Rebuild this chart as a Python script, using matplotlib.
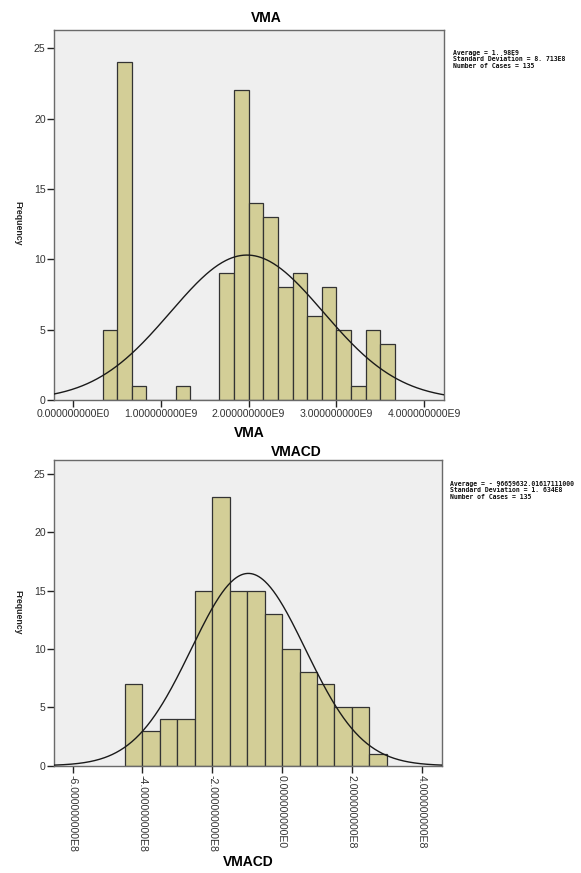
import numpy as np
import matplotlib
matplotlib.use("Agg")
import matplotlib.pyplot as plt

# ---------------- data ----------------
vma_bin_start = 1.0e9 / 3.0          # first bin edge
vma_bin_width = 1.0e9 / 6.0
vma_counts = [5, 24, 1, 0, 0, 1, 0, 0, 9, 22, 14, 13, 8, 9, 6, 8, 5, 1, 5, 4]
vma_mean = 1.98e9
vma_sd = 8.713e8
vma_n = 135
vma_xticks = [0.0, 1.0e9, 2.0e9, 3.0e9, 4.0e9]
vma_xticklabels = ["0.000000000E0", "1.000000000E9", "2.000000000E9",
                   "3.000000000E9", "4.000000000E9"]
vma_stats = ["Average = 1. 98E9", "Standard Deviation = 8. 713E8",
             "Number of Cases = 135"]

vmacd_bin_start = -4.5e8
vmacd_bin_width = 0.5e8
vmacd_counts = [7, 3, 4, 4, 15, 23, 15, 15, 13, 10, 8, 7, 5, 5, 1]
vmacd_mean = -96659632.01617111
vmacd_sd = 1.634e8
vmacd_n = 135
vmacd_xticks = [-6e8, -4e8, -2e8, 0.0, 2e8, 4e8]
vmacd_xticklabels = ["-6.000000000E8", "-4.000000000E8", "-2.000000000E8",
                     "0.000000000E0", "2.000000000E8", "4.000000000E8"]
vmacd_stats = ["Average = - 96659632.01617111000", "Standard Deviation = 1. 634E8",
               "Number of Cases = 135"]

yticks = [0, 5, 10, 15, 20, 25]

# ---------------- style ----------------
plt.rcParams['font.family'] = ['Liberation Sans', 'DejaVu Sans']
BAR = '#d3ce97'
BG = '#efefef'
FRAME = '#6a6a6a'

W, H = 581, 873
fig = plt.figure(figsize=(W / 100, H / 100), dpi=100)


def px_axes(x0, y0, x1, y1):
    return fig.add_axes([x0 / W, 1 - y1 / H, (x1 - x0) / W, (y1 - y0) / H])


def draw(ax, start, width, counts, mean, sd, n, xlim, ylim, xticks, xticklabels, rot):
    counts = np.asarray(counts, dtype=float)
    lefts = start + width * np.arange(len(counts))
    ax.set_facecolor(BG)
    ax.bar(lefts, counts, width=width, align='edge', color=BAR,
           edgecolor='#333333', linewidth=0.9, zorder=2)
    xs = np.linspace(xlim[0], xlim[1], 400)
    ys = n * width / (np.sqrt(2 * np.pi) * sd) * np.exp(-0.5 * ((xs - mean) / sd) ** 2)
    ax.plot(xs, ys, color='#1a1a1a', linewidth=1.0, zorder=3)
    ax.set_xlim(*xlim)
    ax.set_ylim(*ylim)
    ax.set_yticks(yticks)
    ax.set_yticklabels([str(v) for v in yticks])
    ax.set_xticks(xticks)
    if rot:
        ax.set_xticklabels(xticklabels, rotation=270, va='top', ha='center')
    else:
        ax.set_xticklabels(xticklabels)
    for s in ax.spines.values():
        s.set_color(FRAME)
        s.set_linewidth(1.0)
    ax.tick_params(axis='both', direction='out', length=5, width=1.0,
                   color='#222222', labelsize=7.6, labelcolor='#333333', pad=1.5)
    ax.tick_params(axis='y', pad=1)


ax1 = px_axes(54, 30, 443.5, 400)
draw(ax1, vma_bin_start, vma_bin_width, vma_counts, vma_mean, vma_sd, vma_n,
     (-0.22e9, 4.222e9), (0, 26.3), vma_xticks, vma_xticklabels, False)

ax2 = px_axes(54, 460, 441.7, 765.7)
draw(ax2, vmacd_bin_start, vmacd_bin_width, vmacd_counts, vmacd_mean, vmacd_sd,
     vmacd_n, (-6.53e8, 4.57e8), (0, 26.2), vmacd_xticks, vmacd_xticklabels, True)

# titles and axis labels
fig.text(266 / W, 1 - 18 / H, "VMA", ha='center', va='center',
         fontsize=10, fontweight='bold')
fig.text(249 / W, 1 - 433 / H, "VMA", ha='center', va='center',
         fontsize=10, fontweight='bold')
fig.text(296 / W, 1 - 452 / H, "VMACD", ha='center', va='center',
         fontsize=10, fontweight='bold')
fig.text(248 / W, 1 - 862 / H, "VMACD", ha='center', va='center',
         fontsize=10, fontweight='bold')
fig.text(18 / W, 1 - 223 / H, "Frequency", ha='center', va='center',
         rotation=270, fontsize=6.3, fontweight='bold', color='#222222')
fig.text(18 / W, 1 - 612 / H, "Frequency", ha='center', va='center',
         rotation=270, fontsize=6.3, fontweight='bold', color='#222222')

# statistics boxes
for i, line in enumerate(vma_stats):
    fig.text(453 / W, 1 - (52.5 + 6.5 * i) / H, line, ha='left', va='center',
             fontsize=4.7, fontweight='bold', family='DejaVu Sans Mono',
             color='#111111')
for i, line in enumerate(vmacd_stats):
    fig.text(450 / W, 1 - (484 + 6.5 * i) / H, line, ha='left', va='center',
             fontsize=4.7, fontweight='bold', family='DejaVu Sans Mono',
             color='#111111')

fig.savefig("out.png", dpi=100, facecolor='white')
